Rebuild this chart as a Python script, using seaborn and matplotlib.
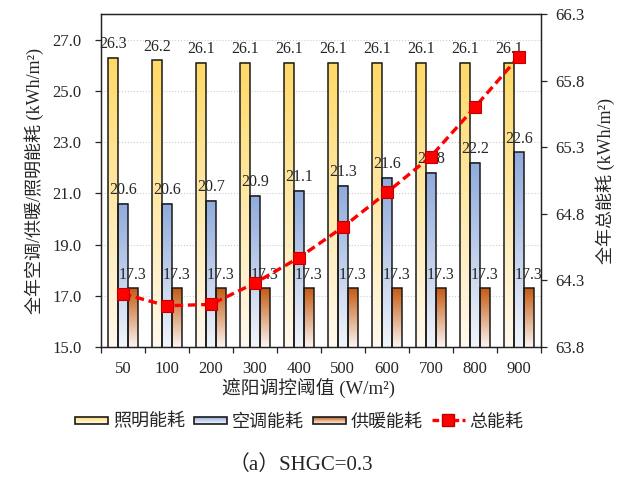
import numpy as np
import pandas as pd
import matplotlib
matplotlib.use("Agg")
import matplotlib.pyplot as plt
import seaborn as sns
from matplotlib.colors import LinearSegmentedColormap, to_rgb
from matplotlib.patches import Rectangle, Patch
from matplotlib.lines import Line2D
from matplotlib.legend_handler import HandlerBase

# ---------------- data ----------------
thresholds = ["50", "100", "200", "300", "400", "500", "600", "700", "800", "900"]
lighting = [26.3, 26.2, 26.1, 26.1, 26.1, 26.1, 26.1, 26.1, 26.1, 26.1]
cooling = [20.6, 20.6, 20.7, 20.9, 21.1, 21.3, 21.6, 21.8, 22.2, 22.6]
heating = [17.3, 17.3, 17.3, 17.3, 17.3, 17.3, 17.3, 17.3, 17.3, 17.3]
total = [64.2, 64.11, 64.12, 64.28, 64.47, 64.7, 64.96, 65.23, 65.6, 65.98]
series_names = ["照明能耗", "空调能耗", "供暖能耗"]
line_name = "总能耗"
left_ticks = [15.0, 17.0, 19.0, 21.0, 23.0, 25.0, 27.0]
right_ticks = [63.8, 64.3, 64.8, 65.3, 65.8, 66.3]

# ---------------- style ----------------
sns.set_style("ticks")
plt.rcParams["font.family"] = ["Liberation Serif", "Noto Sans CJK SC"]
plt.rcParams["axes.unicode_minus"] = False

top_colors = ["#FFD966", "#8FAADC", "#C55A11"]
bottom_colors = ["#FFF9EE", "#F2F5FB", "#FBF6F4"]

df = pd.DataFrame({
    "阈值": thresholds * 3,
    "能耗": lighting + cooling + heating,
    "类型": sum([[n] * len(thresholds) for n in series_names], []),
})

fig = plt.figure(figsize=(6.26, 4.82), dpi=100)
ax = fig.add_axes([0.161, 0.280, 0.703, 0.691])
ymin, ymax = 15.0, 28.0

sns.barplot(data=df, x="阈值", y="能耗", hue="类型", order=thresholds,
            hue_order=series_names, width=0.68, gap=0, ax=ax, legend=False,
            palette=top_colors, saturation=1)

for cont, ct, cb in zip(ax.containers, top_colors, bottom_colors):
    cmap = LinearSegmentedColormap.from_list("g", [cb, ct])
    for p in cont.patches:
        x0, w, h = p.get_x(), p.get_width(), p.get_height()
        ax.imshow(np.linspace(0, 1, 256).reshape(-1, 1), cmap=cmap, origin="lower",
                  extent=(x0, x0 + w, ymin, h), aspect="auto", zorder=2,
                  interpolation="bicubic")
        p.set_facecolor("none")
        p.set_edgecolor("#1a1a1a")
        p.set_linewidth(1.1)
        p.set_zorder(3)
    ax.bar_label(cont, fmt="%.1f", padding=4, fontsize=11.5, zorder=5)

ax.set_xlim(-0.5, len(thresholds) - 0.5)
ax.set_ylim(ymin, ymax)
ax.set_yticks(left_ticks)
ax.set_yticklabels([f"{v:.1f}" for v in left_ticks])
ax.set_xticks(range(len(thresholds)))
ax.set_xticklabels(thresholds)
ax.set_xticks(np.arange(-0.5, len(thresholds), 1), minor=True)
ax.tick_params(axis="x", which="major", length=0, pad=10, labelsize=12)
ax.tick_params(axis="x", which="minor", length=4, direction="out", width=0.9)
ax.tick_params(axis="y", length=4, direction="out", pad=10, labelsize=12, width=0.9)
ax.yaxis.grid(True, linestyle=":", color="#cfcfcf", linewidth=0.8)
ax.set_axisbelow(True)
ax.set_xlabel("遮阳调控阈值 (W/m²)", fontsize=13.5)
ax.xaxis.set_label_coords(0.473, -0.097)
ax.set_ylabel("全年空调/供暖/照明能耗 (kWh/m²)", fontsize=13, labelpad=6)
for s in ax.spines.values():
    s.set_linewidth(0.9)
    s.set_color("#222222")

ax2 = ax.twinx()
sns.lineplot(x=np.arange(len(thresholds)), y=total, ax=ax2, color="#FF0000",
             linewidth=2.4, linestyle=(0, (2.6, 1.4)), marker="s", markersize=9,
             markerfacecolor="#FF0000", markeredgecolor="#C00000",
             markeredgewidth=0.8, zorder=6)
ax2.set_ylim(63.8, 66.3)
ax2.set_yticks(right_ticks)
ax2.set_yticklabels([f"{v:.1f}" for v in right_ticks])
ax2.tick_params(axis="y", length=4, direction="out", pad=6, labelsize=12, width=0.9)
ax2.set_ylabel("全年总能耗 (kWh/m²)", fontsize=13, labelpad=8)
ax2.set_xlim(-0.5, len(thresholds) - 0.5)
for s in ax2.spines.values():
    s.set_linewidth(0.9)
    s.set_color("#222222")


class GradHandler(HandlerBase):
    def __init__(self, top, bottom, n=14):
        super().__init__()
        self.top, self.bottom, self.n = to_rgb(top), to_rgb(bottom), n

    def create_artists(self, legend, orig_handle, xdescent, ydescent, width,
                       height, fontsize, trans):
        arts = []
        h = height * 0.6
        y0 = -ydescent + (height - h) / 2
        for i in range(self.n):
            f = (i + 0.5) / self.n
            c = tuple(b + (t - b) * f for t, b in zip(self.top, self.bottom))
            arts.append(Rectangle((-xdescent, y0 + h * i / self.n), width,
                                  h / self.n, facecolor=c, edgecolor="none",
                                  transform=trans))
        arts.append(Rectangle((-xdescent, y0), width, h, facecolor="none",
                              edgecolor="#1a1a1a", linewidth=1.2, transform=trans))
        return arts


handles = [Patch(label=n) for n in series_names]
hmap = {h: GradHandler(t, b) for h, t, b in zip(handles, top_colors, bottom_colors)}
line_handle = Line2D([], [], color="#FF0000", linewidth=2.4, linestyle=(0, (2.0, 1.0)),
                     marker="s", markersize=8, markerfacecolor="#FF0000",
                     markeredgecolor="#C00000", label=line_name)
handles.append(line_handle)
fig.legend(handles=handles, labels=series_names + [line_name], handler_map=hmap,
           loc="center", bbox_to_anchor=(0.478, 0.1245), ncol=4, frameon=False,
           fontsize=13, handlelength=1.85, handletextpad=0.25, columnspacing=0.5)

fig.text(0.481, 0.035, "（a）SHGC=0.3", ha="center", va="center", fontsize=15)

fig.savefig("out.png", dpi=100)
